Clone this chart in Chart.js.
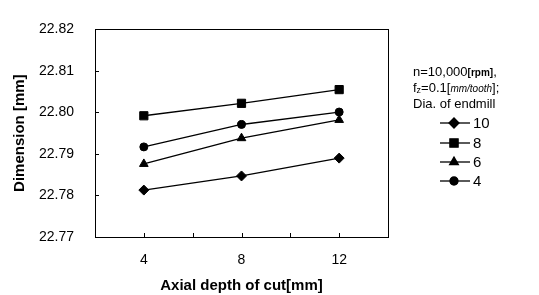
<!DOCTYPE html>
<html>
<head>
<meta charset="utf-8">
<script src="https://cdn.jsdelivr.net/npm/chart.js@4.4.1/dist/chart.umd.min.js"></script>
<style>
  html, body { margin: 0; padding: 0; background: #fff; }
  #wrap { width: 539px; height: 295px; }
</style>
</head>
<body>
<div id="wrap"><canvas id="chart" width="539" height="295"></canvas></div>
<script>
// Axial depth of cut [mm]
const depths = [4, 8, 12];

// Dimension [mm] for each endmill diameter
const dia10 = [22.7813, 22.7847, 22.7890];
const dia8 = [22.7992, 22.8022, 22.8055];
const dia6 = [22.7876, 22.7938, 22.7982];
const dia4 = [22.7917, 22.7971, 22.8001];

const seriesLabels = ['10', '8', '6', '4'];
const seriesStyles = ['rectRot', 'rect', 'triangle', 'circle'];
const markerSizes = { rectRot: 5, rect: 5.8, triangle: 5, circle: 4 };

const yTicks = [22.77, 22.78, 22.79, 22.80, 22.81, 22.82];
const xTickMarks = [4, 6, 8, 10, 12];
const xTickLabels = [4, 8, 12];

const FONT = '"Liberation Sans", Arial, sans-serif';

function toPoints(values) {
    return depths.map((d, i) => ({ x: d, y: values[i] }));
}

function makeSet(label, values, style) {
    return {
        label: label,
        data: toPoints(values),
        borderColor: '#000',
        backgroundColor: '#000',
        borderWidth: 1.3,
        pointStyle: style,
        pointRadius: markerSizes[style],
        pointBorderWidth: 1,
        pointBackgroundColor: '#000',
        pointBorderColor: '#000',
        tension: 0
    };
}

// inward tick marks on the axes
const innerTicks = {
    id: 'innerTicks',
    afterDraw(chart) {
        const { ctx, chartArea, scales } = chart;
        ctx.save();
        ctx.strokeStyle = '#000';
        ctx.lineWidth = 1;
        ctx.beginPath();
        xTickMarks.forEach(v => {
            const px = Math.round(scales.x.getPixelForValue(v)) + 0.5;
            ctx.moveTo(px, chartArea.bottom);
            ctx.lineTo(px, chartArea.bottom - 4);
        });
        yTicks.slice(1, -1).forEach(v => {
            const py = Math.round(scales.y.getPixelForValue(v)) + 0.5;
            ctx.moveTo(chartArea.left, py);
            ctx.lineTo(chartArea.left + 4, py);
        });
        ctx.stroke();
        ctx.restore();
    }
};

// condition notes and line legend at the right
const sideNotes = {
    id: 'sideNotes',
    afterDraw(chart) {
        const ctx = chart.ctx;
        ctx.save();
        ctx.fillStyle = '#000';
        ctx.textBaseline = 'middle';
        ctx.textAlign = 'left';

        let x = 413;
        ctx.font = '13px ' + FONT;
        ctx.fillText('n=10,000', x, 72);
        x += ctx.measureText('n=10,000').width;
        ctx.font = 'bold 10px ' + FONT;
        ctx.fillText('[rpm]', x, 73);
        x += ctx.measureText('[rpm]').width;
        ctx.font = '13px ' + FONT;
        ctx.fillText(',', x, 72);

        x = 413;
        ctx.font = '13px ' + FONT;
        ctx.fillText('f', x, 88);
        x += ctx.measureText('f').width;
        ctx.font = '9px ' + FONT;
        ctx.fillText('z', x, 91);
        x += ctx.measureText('z').width;
        ctx.font = '13px ' + FONT;
        ctx.fillText('=0.1[', x, 88);
        x += ctx.measureText('=0.1[').width;
        ctx.font = 'italic 10px ' + FONT;
        ctx.fillText('mm/tooth', x, 89);
        x += ctx.measureText('mm/tooth').width;
        ctx.font = '13px ' + FONT;
        ctx.fillText('];', x, 88);

        ctx.fillText('Dia. of endmill', 413, 104);

        const rows = [123, 143, 162, 181];
        chart.data.datasets.forEach((ds, i) => {
            const y = rows[i];
            ctx.strokeStyle = '#000';
            ctx.lineWidth = 1.3;
            ctx.beginPath();
            ctx.moveTo(440, y);
            ctx.lineTo(470, y);
            ctx.stroke();
            Chart.helpers.drawPoint(ctx, {
                pointStyle: ds.pointStyle,
                radius: ds.pointRadius,
                borderWidth: 1,
                rotation: 0
            }, 454, y);
            ctx.fillStyle = '#000';
            ctx.fill();
            ctx.font = '15px ' + FONT;
            ctx.fillText(ds.label, 473, y + 1);
        });
        ctx.restore();
    }
};

new Chart(document.getElementById('chart'), {
    type: 'line',
    data: {
        datasets: [
            makeSet(seriesLabels[0], dia10, seriesStyles[0]),
            makeSet(seriesLabels[1], dia8, seriesStyles[1]),
            makeSet(seriesLabels[2], dia6, seriesStyles[2]),
            makeSet(seriesLabels[3], dia4, seriesStyles[3])
        ]
    },
    options: {
        responsive: false,
        animation: false,
        layout: { padding: { top: 12, right: 151, bottom: 0, left: 0 } },
        plugins: {
            legend: { display: false },
            tooltip: { enabled: false }
        },
        scales: {
            x: {
                type: 'linear',
                min: 2,
                max: 14,
                afterFit: s => { s.height = 58; },
                afterBuildTicks: s => { s.ticks = xTickLabels.map(v => ({ value: v })); },
                grid: { display: false, drawTicks: false },
                border: { display: true, color: '#000', width: 1 },
                ticks: {
                    color: '#000',
                    padding: 15,
                    font: { family: FONT, size: 14 },
                    callback: v => String(v)
                },
                title: {
                    display: true,
                    text: 'Axial depth of cut[mm]',
                    color: '#000',
                    font: { family: FONT, size: 15, weight: 'bold' },
                    padding: { top: 5, bottom: 0 }
                }
            },
            y: {
                min: 22.77,
                max: 22.82,
                afterFit: s => { s.width = 95; },
                afterBuildTicks: s => { s.ticks = yTicks.map(v => ({ value: v })); },
                grid: { display: false, drawTicks: false },
                border: { display: true, color: '#000', width: 1 },
                ticks: {
                    color: '#000',
                    padding: 21,
                    font: { family: FONT, size: 14 },
                    callback: v => v.toFixed(2)
                },
                title: {
                    display: true,
                    text: 'Dimension [mm]',
                    color: '#000',
                    font: { family: FONT, size: 15, weight: 'bold' },
                    padding: { top: 11, bottom: 0 }
                }
            }
        }
    },
    plugins: [innerTicks, sideNotes, {
        id: 'frame',
        afterDraw(chart) {
            const { ctx, chartArea: a } = chart;
            ctx.save();
            ctx.strokeStyle = '#000';
            ctx.lineWidth = 1;
            ctx.strokeRect(Math.round(a.left) + 0.5, Math.round(a.top) + 0.5,
                Math.round(a.right - a.left), Math.round(a.bottom - a.top));
            ctx.restore();
        }
    }]
});
</script>
</body>
</html>
